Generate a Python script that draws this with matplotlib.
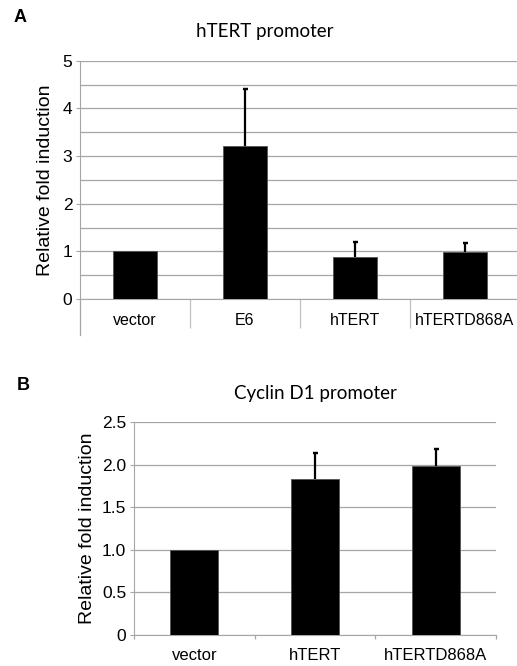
import matplotlib
matplotlib.use('Agg')
import matplotlib.pyplot as plt
import matplotlib.transforms as mtransforms

plt.rcParams['font.family'] = ['Liberation Sans', 'DejaVu Sans']

# panel A data
cats_a = ['vector', 'E6', 'hTERT', 'hTERTD868A']
vals_a = [1.0, 3.21, 0.89, 0.98]
errs_a = [0.0, 1.20, 0.31, 0.20]

# panel B data
cats_b = ['vector', 'hTERT', 'hTERTD868A']
vals_b = [1.0, 1.83, 1.99]
errs_b = [0.0, 0.31, 0.20]
ticks_b = [0, 0.5, 1.0, 1.5, 2.0, 2.5]
ticklabels_b = ['0', '0.5', '1.0', '1.5', '2.0', '2.5']

grid_c = '#a6a6a6'
W, H = 517, 666
fig = plt.figure(figsize=(W / 100, H / 100), dpi=100)


def style_axes(ax):
    for s in ['top', 'right']:
        ax.spines[s].set_visible(False)
    ax.spines['left'].set_color(grid_c)
    ax.spines['bottom'].set_color(grid_c)
    ax.set_axisbelow(True)
    ax.yaxis.grid(True, which='both', color=grid_c, linewidth=0.9)
    ax.tick_params(axis='y', colors=grid_c, labelcolor='black', labelsize=12.5,
                   length=3, pad=2.5)


def draw_bars(ax, vals, errs):
    x = list(range(len(vals)))
    ax.bar(x, vals, width=0.4, color='black', edgecolor='#555555', linewidth=0.6, zorder=3)
    # only up-going error bars, skip the ones with no error
    ex = [i for i in x if errs[i] > 0]
    ey = [vals[i] for i in ex]
    ee = [errs[i] for i in ex]
    ax.errorbar(ex, [v + e / 2 for v, e in zip(ey, ee)], yerr=[e / 2 for e in ee],
                fmt='none', ecolor='black', elinewidth=1.6, capsize=0, zorder=4)
    ax.errorbar(ex, [v + e for v, e in zip(ey, ee)], yerr=0, fmt='none', ecolor='black',
                elinewidth=0, capsize=1.8, capthick=1.6, zorder=4)
    return x


# ---- A ----
ax1 = fig.add_axes([80 / W, 1 - 299 / H, 440 / W, 238.3 / H])
x = draw_bars(ax1, vals_a, errs_a)
ax1.set_xlim(-0.5, len(cats_a) - 0.5)
ax1.set_ylim(0, 5)
ax1.set_yticks(range(6))
ax1.set_yticks([0.5, 1.5, 2.5, 3.5, 4.5], minor=True)
ax1.tick_params(axis='y', which='minor', length=0)
style_axes(ax1)
ax1.set_xticks([0.5, 1.5, 2.5])
ax1.set_xticklabels([])
ax1.tick_params(axis='x', which='major', length=21, width=0.9, color='#c0c0c0')
ax1.set_xticks(x, minor=True)
ax1.set_xticklabels(cats_a, minor=True)
ax1.tick_params(axis='x', which='minor', length=0, pad=10, labelsize=11.5)
trans = mtransforms.blended_transform_factory(ax1.transData, ax1.transAxes)
ax1.plot([-0.5, -0.5], [0, -0.152], color=grid_c, linewidth=0.9, transform=trans, clip_on=False)
ax1.set_ylabel('Relative fold induction', fontsize=14, labelpad=6)
fig.text(265 / W, 1 - 32 / H, 'hTERT promoter', ha='center', va='center',
         fontsize=13.5, family=['Lato', 'DejaVu Sans'])
fig.text(20 / W, 1 - 18 / H, 'A', ha='center', va='center', fontsize=13, fontweight='bold')

# ---- B ----
ax2 = fig.add_axes([134 / W, 1 - 635 / H, 362 / W, 212.7 / H])
x2 = draw_bars(ax2, vals_b, errs_b)
ax2.set_xlim(-0.5, len(cats_b) - 0.5)
ax2.set_ylim(0, 2.5)
ax2.set_yticks(ticks_b)
ax2.set_yticklabels(ticklabels_b)
style_axes(ax2)
ax2.set_xticks([-0.5, 0.5, 1.5, 2.5])
ax2.set_xticklabels([])
ax2.tick_params(axis='x', which='major', length=3, width=0.9, color=grid_c)
ax2.set_xticks(x2, minor=True)
ax2.set_xticklabels(cats_b, minor=True)
ax2.tick_params(axis='x', which='minor', length=0, pad=9, labelsize=12)
ax2.set_ylabel('Relative fold induction', fontsize=14, labelpad=4)
fig.text(315 / W, 1 - 393 / H, 'Cyclin D1 promoter', ha='center', va='center',
         fontsize=13.5, family=['Lato', 'DejaVu Sans'])
fig.text(23 / W, 1 - 385 / H, 'B', ha='center', va='center', fontsize=13, fontweight='bold')

fig.savefig('out.png', dpi=100)
